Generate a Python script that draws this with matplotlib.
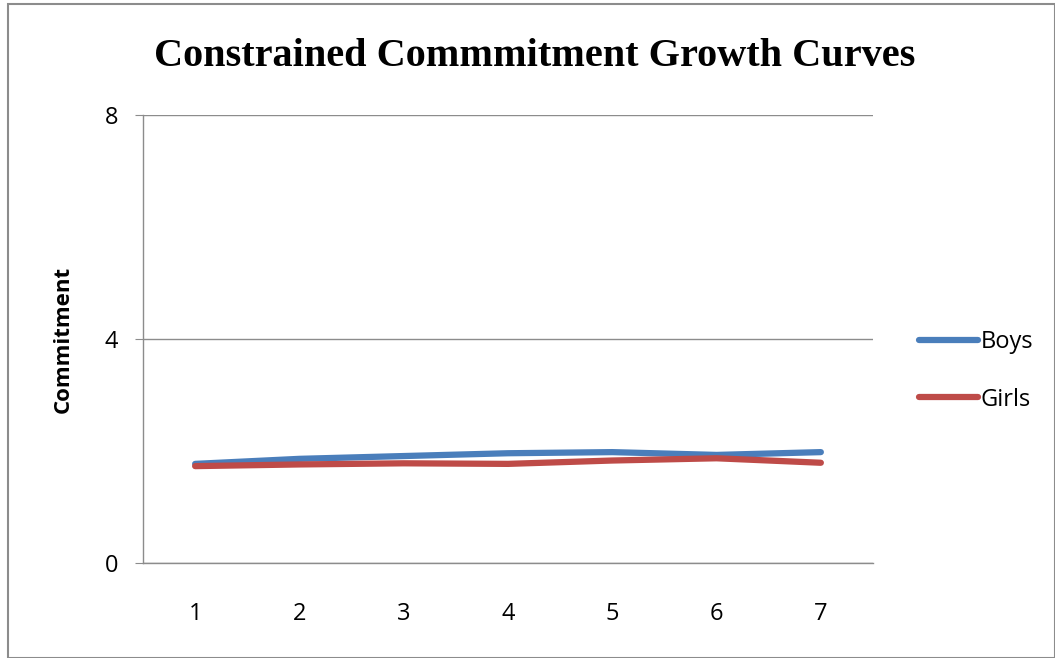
import matplotlib
matplotlib.use("Agg")
from matplotlib import pyplot as plt
from matplotlib.patches import Rectangle

# Data
waves = [1, 2, 3, 4, 5, 6, 7]
boys = [1.77, 1.86, 1.91, 1.96, 1.98, 1.93, 1.98]
girls = [1.73, 1.76, 1.78, 1.77, 1.83, 1.87, 1.79]
y_ticks = [0, 4, 8]

W, H = 1055, 658
fig = plt.figure(figsize=(W / 100, H / 100), dpi=100)

# Outer chart border
fig.patches.append(Rectangle((8 / W, 0), (W - 8) / W, (H - 4) / H,
                             transform=fig.transFigure, fill=False,
                             edgecolor='#8c8c8c', linewidth=1.5))

ax = fig.add_axes([143 / W, (H - 563) / H, (873 - 143) / W, (563 - 115) / H])

ax.plot(waves, boys, color='#4a7ebb', linewidth=4.5, solid_capstyle='round', label='Boys')
ax.plot(waves, girls, color='#be4b48', linewidth=4.5, solid_capstyle='round', label='Girls')

ax.set_xlim(0.5, 7.5)
ax.set_ylim(0, 8)
ax.set_xticks(waves)
ax.set_yticks(y_ticks)
ax.yaxis.grid(True, color='#8c8c8c', linewidth=1)
ax.set_axisbelow(True)

for side in ['top', 'right']:
    ax.spines[side].set_visible(False)
for side in ['left', 'bottom']:
    ax.spines[side].set_color('#8c8c8c')
    ax.spines[side].set_linewidth(1)

ax.tick_params(axis='y', length=6, color='#8c8c8c', pad=12, labelsize=17)
ax.tick_params(axis='x', length=0, pad=28, labelsize=17)
for lbl in ax.get_xticklabels() + ax.get_yticklabels():
    lbl.set_fontfamily('Open Sans')

ax.set_ylabel('Commitment', fontsize=16, fontweight='bold', family='Open Sans', labelpad=22)

fig.text(535 / W, 1 - 57 / H, 'Constrained Commmitment Growth Curves',
         ha='center', va='center', fontsize=29, fontweight='bold',
         family='Liberation Serif')

leg = fig.legend(loc='center left', bbox_to_anchor=(898 / W, 1 - 371 / H),
                 frameon=False, prop={'family': 'Open Sans', 'size': 17},
                 handlelength=2.5, handletextpad=0.1, labelspacing=1.4)

fig.savefig('out.png', dpi=100)
